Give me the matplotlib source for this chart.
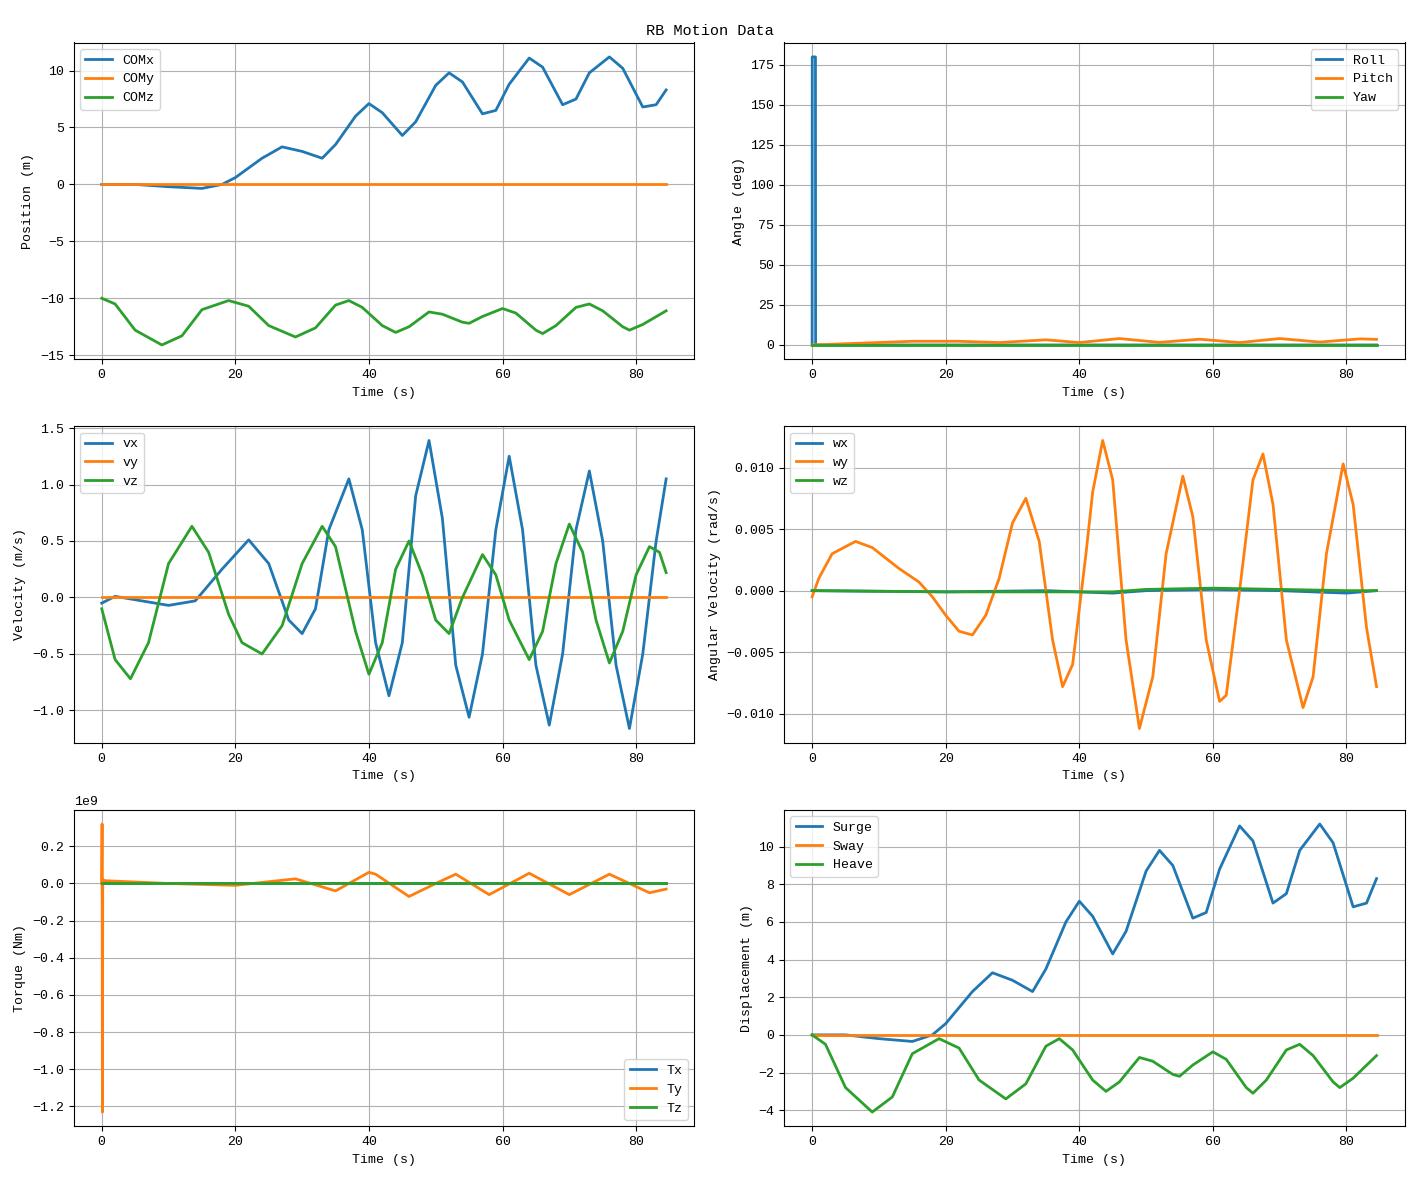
import matplotlib
matplotlib.use("Agg")
import matplotlib.pyplot as plt
import numpy as np

plt.rcParams['font.family'] = ['Liberation Mono', 'DejaVu Sans Mono']
plt.rcParams['font.size'] = 9.5

t_pos = [0,5,10,15,18,20,24,27,30,33,35,38,40,42,45,47,50,52,54,57,59,61,64,66,69,71,73,76,78,81,83,84.5]
comx = [0,0,-0.2,-0.35,0,0.6,2.3,3.3,2.9,2.3,3.5,6.0,7.1,6.3,4.3,5.5,8.7,9.8,9.0,6.2,6.5,8.8,11.1,10.3,7.0,7.5,9.8,11.2,10.2,6.8,7.0,8.3]
t_z = [0,2,5,9,12,15,19,22,25,29,32,35,37,39,42,44,46,49,51,54,55,57,60,62,65,66,68,71,73,75,78,79,81,84.5]
comz = [-10,-10.5,-12.8,-14.1,-13.3,-11.0,-10.2,-10.7,-12.4,-13.4,-12.6,-10.6,-10.2,-10.8,-12.4,-13.0,-12.5,-11.2,-11.4,-12.1,-12.2,-11.6,-10.9,-11.3,-12.8,-13.1,-12.4,-10.8,-10.5,-11.1,-12.5,-12.8,-12.3,-11.1]
t_end = [0, 84.5]
zero = [0, 0]

t_roll = [0,0.02,0.5,0.52,84.5]
roll = [0,180,180,0,0]
t_pitch = [0,15,22,28,35,40,46,52,58,64,70,76,82,84.5]
pitch = [0,2.3,2.3,1.5,3.2,1.5,4,1.6,3.6,1.5,4,1.8,3.8,3.5]

t_vx = [0,2,5,10,14,18,22,25,28,30,32,34,37,39,41,43,45,47,49,51,53,55,57,59,61,63,65,67,69,71,73,75,77,79,81,83,84.5]
vx = [-0.05,0.01,-0.02,-0.07,-0.03,0.25,0.51,0.3,-0.2,-0.32,-0.1,0.6,1.05,0.6,-0.4,-0.87,-0.4,0.9,1.39,0.7,-0.6,-1.06,-0.5,0.6,1.25,0.6,-0.6,-1.13,-0.5,0.6,1.12,0.5,-0.6,-1.16,-0.5,0.5,1.05]
t_vz = [0,2,4.3,7,10,13.5,16,19,21,24,27,30,33,35,38,40,42,44,46,48,50,52,54,57,59,61,64,66,68,70,72,74,76,78,80,82,83.5,84.5]
vz = [-0.1,-0.55,-0.72,-0.4,0.3,0.63,0.4,-0.15,-0.4,-0.5,-0.25,0.3,0.63,0.45,-0.3,-0.68,-0.4,0.25,0.5,0.2,-0.2,-0.32,0,0.38,0.2,-0.2,-0.55,-0.3,0.3,0.65,0.4,-0.2,-0.58,-0.3,0.2,0.45,0.4,0.22]

t_wy = [0,1,3,6.5,9,13,16,18,20,22,24,26,28,30,32,34,36,37.5,39,41,42,43.5,45,47,49,51,53,55.5,57,59,61,62,64,66,67.5,69,71,73.5,75,77,79.5,81,83,84.5]
wy = [-0.0005,0.001,0.003,0.004,0.0035,0.0018,0.0007,-0.0005,-0.002,-0.0033,-0.0036,-0.002,0.001,0.0055,0.0075,0.004,-0.004,-0.0078,-0.006,0.003,0.008,0.0122,0.009,-0.004,-0.0112,-0.007,0.003,0.0093,0.006,-0.004,-0.009,-0.0085,0.0,0.009,0.0111,0.007,-0.004,-0.0095,-0.007,0.003,0.0103,0.007,-0.003,-0.0078]
t_wx = [0,20,35,45,50,60,70,80,84.5]
wx = [0,-0.0001,0.0,-0.0002,0.0,0.0001,0.0,-0.0002,0.0]
wz = [0,-0.0001,-0.0001,-0.0001,0.0001,0.0002,0.0001,0.0,0.0]

t_ty = [0,0.05,0.1,0.15,0.5,10,20,29,35,40,41,46,50,53,58,64,70,76,82,84.5]
ty = [0,0.32,-1.23,0.02,0.015,0,-0.01,0.025,-0.04,0.06,0.05,-0.07,0.0,0.05,-0.06,0.055,-0.06,0.05,-0.05,-0.03]
ty = [v*1e9 for v in ty]

heave = [v + 10 for v in comz]

fig, axs = plt.subplots(3, 2, figsize=(14.19, 11.8), dpi=100)
fig.suptitle("RB Motion Data", fontsize=11)
lw = 2

ax = axs[0,0]
ax.plot(t_pos, comx, lw=lw, label="COMx")
ax.plot(t_end, zero, lw=lw, label="COMy")
ax.plot(t_z, comz, lw=lw, label="COMz")
ax.set_ylabel("Position (m)")

ax = axs[0,1]
ax.plot(t_roll, roll, lw=lw, label="Roll")
ax.plot(t_pitch, pitch, lw=lw, label="Pitch")
ax.plot(t_end, zero, lw=lw, label="Yaw")
ax.set_ylabel("Angle (deg)")

ax = axs[1,0]
ax.plot(t_vx, vx, lw=lw, label="vx")
ax.plot(t_end, zero, lw=lw, label="vy")
ax.plot(t_vz, vz, lw=lw, label="vz")
ax.set_ylabel("Velocity (m/s)")

ax = axs[1,1]
ax.plot(t_wx, wx, lw=lw, label="wx")
ax.plot(t_wy, wy, lw=lw, label="wy")
ax.plot(t_wx, wz, lw=lw, label="wz")
ax.set_ylabel("Angular Velocity (rad/s)")

ax = axs[2,0]
ax.plot(t_end, zero, lw=lw, label="Tx")
ax.plot(t_ty, ty, lw=lw, label="Ty")
ax.plot(t_end, zero, lw=lw, label="Tz")
ax.set_ylabel("Torque (Nm)")

ax = axs[2,1]
ax.plot(t_pos, comx, lw=lw, label="Surge")
ax.plot(t_end, zero, lw=lw, label="Sway")
ax.plot(t_z, heave, lw=lw, label="Heave")
ax.set_ylabel("Displacement (m)")

for a in axs.flat:
    a.set_xlabel("Time (s)")
    a.grid(True)
    a.legend()
axs[2,0].legend(loc="lower right")
fig.tight_layout()
fig.savefig("out.png")
